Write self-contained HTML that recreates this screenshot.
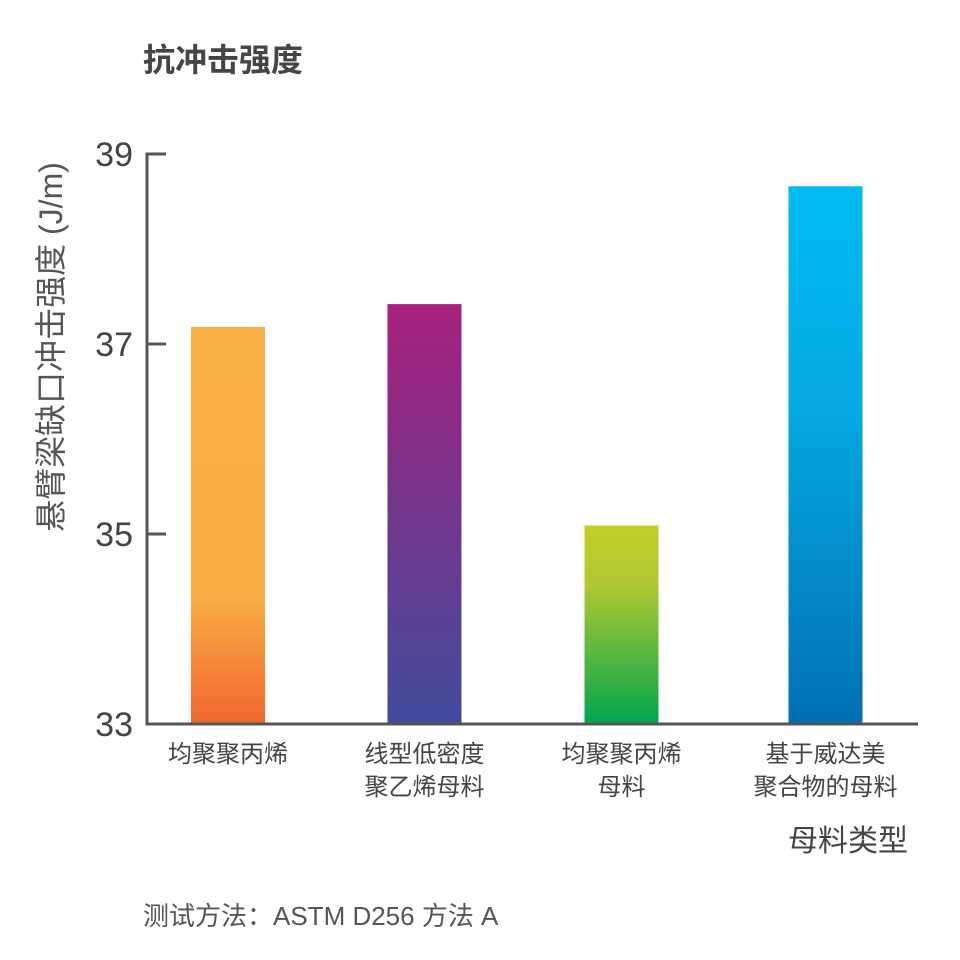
<!DOCTYPE html>
<html><head><meta charset="utf-8"><style>
body{margin:0;background:#fff}
svg{display:block;font-family:"Liberation Sans","Noto Sans CJK SC",sans-serif}
</style></head><body>
<svg width="960" height="960" viewBox="0 0 960 960">
<defs>
<linearGradient id="g0" x1="0" y1="0" x2="0" y2="1"><stop offset="0" stop-color="#f9b046"/><stop offset="0.68" stop-color="#f9ad45"/><stop offset="1" stop-color="#f2662c"/></linearGradient>
<linearGradient id="g1" x1="0" y1="0" x2="0" y2="1"><stop offset="0" stop-color="#a8207d"/><stop offset="1" stop-color="#3f4b9c"/></linearGradient>
<linearGradient id="g2" x1="0" y1="0" x2="0" y2="1"><stop offset="0" stop-color="#c4ce2a"/><stop offset="0.3" stop-color="#b0c832"/><stop offset="1" stop-color="#00a64f"/></linearGradient>
<linearGradient id="g3" x1="0" y1="0" x2="0" y2="1"><stop offset="0" stop-color="#00bbf2"/><stop offset="0.4" stop-color="#04aae6"/><stop offset="1" stop-color="#006fb6"/></linearGradient>
</defs>
<text x="143" y="71" font-size="32" font-weight="bold" fill="#454545">抗冲击强度</text>
<text transform="translate(62,347) rotate(-90)" text-anchor="middle" font-size="32" fill="#555">悬臂梁缺口冲击强度 (J/m)</text>
<g id="bars"></g>
<g id="axes"></g>
<text x="908" y="851" text-anchor="end" font-size="30" fill="#444">母料类型</text>
<text x="143" y="925" font-size="26" fill="#555">测试方法：ASTM D256 方法 A</text>
</svg>
<script>
const categories=[["均聚聚丙烯"],["线型低密度","聚乙烯母料"],["均聚聚丙烯","母料"],["基于威达美","聚合物的母料"]];
const values=[37.18,37.42,35.09,38.66];
const yTicks=[33,35,37,39];
const NS="http://www.w3.org/2000/svg";
const y0=724,y1=154,vmin=33,vmax=39,ax=147,axEnd=918;
const y=v=>y0-(v-vmin)/(vmax-vmin)*(y0-y1);
const centers=[228,424.5,621.5,825.5];
const xc=i=>centers[i];
const bw=74;
const bars=document.getElementById('bars'),axes=document.getElementById('axes');
function mk(t,a,p){const e=document.createElementNS(NS,t);for(const k in a)e.setAttribute(k,a[k]);p.appendChild(e);return e;}
values.forEach((v,i)=>{
 const r=mk('rect',{x:xc(i)-bw/2,y:y(v),width:bw,height:y0-y(v),fill:`url(#g${i})`},bars);
 
 
 categories[i].forEach((line,j)=>{
  const t=mk('text',{x:xc(i),y:762+j*33,'text-anchor':'middle','font-size':24,fill:'#444'},bars);
  t.textContent=line;
  
  
 });
});
const yl=mk('line',{x1:ax,y1:y1-1.5,x2:ax,y2:y0+1.5,stroke:'#555','stroke-width':3},axes);


const xl=mk('line',{x1:ax-1.5,y1:y0,x2:axEnd,y2:y0,stroke:'#555','stroke-width':3},axes);


yTicks.forEach(v=>{
 const tk=mk('line',{x1:ax,y1:y(v),x2:ax+19,y2:y(v),stroke:'#555','stroke-width':3},axes);
 
 
 const t=mk('text',{x:133,y:y(v)+12,'text-anchor':'end','font-size':34,fill:'#444'},axes);
 t.textContent=v;
 
 
});
</script>
</body></html>
